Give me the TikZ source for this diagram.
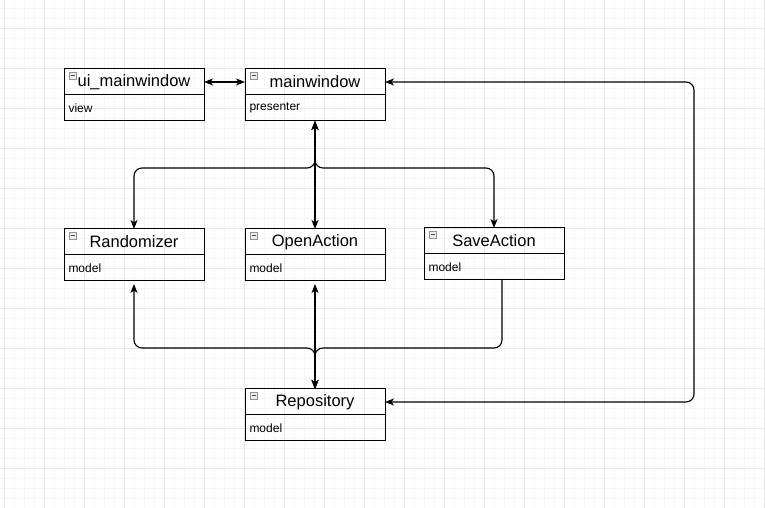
\documentclass[tikz,border=0pt]{standalone}
\usepackage{fontspec}
\setmainfont{Liberation Sans}
\usetikzlibrary{positioning,calc,arrows.meta}

\begin{document}
\begin{tikzpicture}[x=1pt, y=1pt,
	classhead/.style={draw, line width=1pt, outer sep=0pt, minimum width=140pt, minimum height=26pt,
	inner sep=0pt, font=\fontsize{16.5}{18}\selectfont},
	classbody/.style={draw, line width=1pt, outer sep=0pt, text width=131pt, minimum height=26pt,
	inner xsep=4.5pt, inner ysep=0pt, align=left, font=\fontsize{12}{14}\selectfont},
	icon/.style={draw=gray!85, fill=gray!15, line width=0.6pt},
	link/.style={line width=1.1pt, rounded corners=8pt},
	gridminor/.style={color=black!3, line width=0.6pt},
	gridmajor/.style={color=black!10, line width=0.7pt},
	>={Stealth[length=9pt,width=7pt,inset=2.5pt]}]

\useasboundingbox (0,0) rectangle (765,508);
\fill[white] (0,0) rectangle (765,508);
\draw[gridminor, shift={(4,0)}, step=10pt] (-4,0) grid (761,508);
\draw[gridmajor, shift={(4,0)}, step=40pt] (-4,0) grid (761,508);

\node[classhead] (ui) at (134,426) {ui\_mainwindow};
\node[classbody, below=0pt of ui] (uib) {view};
\node[classhead] (mw) at (315,426) {mainwindow};
\node[classbody, below=0pt of mw] (mwb) {presenter};

\node[classhead] (rand) at (134,266) {Randomizer};
\node[classbody, below=0pt of rand] (randb) {model};
\node[classhead] (open) at (315,266) {OpenAction};
\node[classbody, below=0pt of open] (openb) {model};
\node[classhead] (save) at (494,267) {SaveAction};
\node[classbody, below=0pt of save] (saveb) {model};

\node[classhead] (repo) at (315,106) {Repository};
\node[classbody, below=0pt of repo] (repob) {model};

% collapse icons
\foreach \n in {ui,mw,rand,open,save,repo} {
	\draw[icon] ($(\n.north west)+(5,-3)$) rectangle ++(7,-7);
	\draw[gray!60!black, line width=0.8pt] ($(\n.north west)+(6.5,-6.5)$) -- ++(4,0);
}

\coordinate (savetap) at ($(saveb.south)+(8,0)$);

\draw[link, <->] (ui.east) -- (mw.west);
\draw[link, <->] (mwb.south) -- ++(0,-47) -| (rand.north);
\draw[link, <->] (mwb.south) -- (open.north);
\draw[link, <->] (mwb.south) -- ++(0,-47) -| (save.north);
\draw[link, <->, shorten <=3pt] (randb.south) -- ++(0,-67) -| (repo.north);
\draw[link, <->, shorten <=3pt] (openb.south) -- (repo.north);
\draw[link, ->] (savetap) -- ++(0,-68) -| (repo.north);
\draw[link, <->] (mw.east) -- ++(309,0) |- (repo.east);
\end{tikzpicture}
\end{document}
